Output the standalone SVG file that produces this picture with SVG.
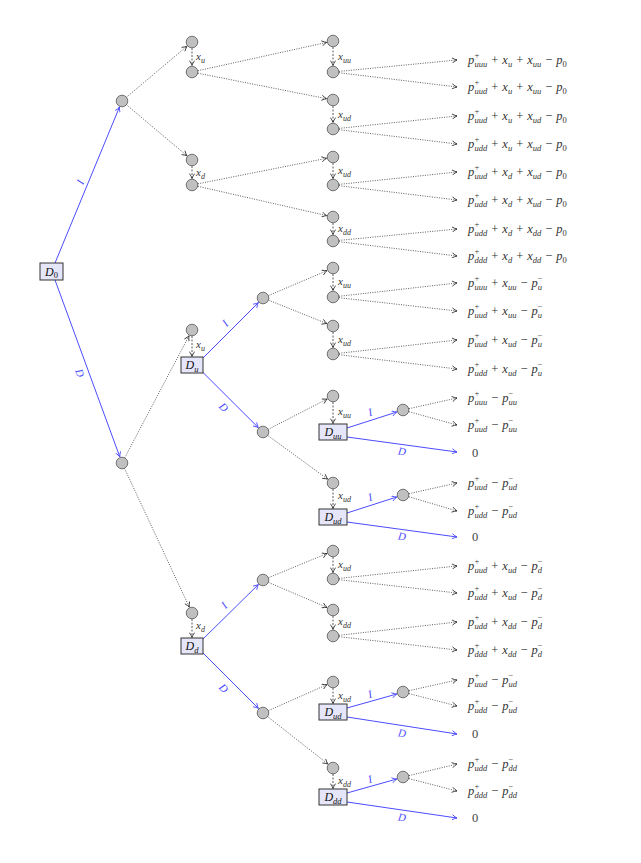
<svg xmlns="http://www.w3.org/2000/svg" width="641" height="863" viewBox="0 0 641 863">
<style>
.dot{fill:none;stroke:#333;stroke-width:0.8;stroke-dasharray:1 1.4;marker-end:url(#ak)}
.dsh{fill:none;stroke:#333;stroke-width:0.8;stroke-dasharray:2 1.5;marker-end:url(#ak)}
.bl{fill:none;stroke:#4c4cff;stroke-width:1;marker-end:url(#ab)}
.c{fill:#c0c0c0;stroke:#555;stroke-width:0.8}
.bx{fill:#e6e6fa;stroke:#333;stroke-width:1}
.m{font-family:"Liberation Serif",serif;font-size:12.5px;fill:#333}
.xl{font-family:"Liberation Serif",serif;font-size:11px;fill:#333}
.nl{font-family:"Liberation Serif",serif;font-size:12px;fill:#111}
.bt{font-family:"Liberation Serif",serif;font-size:11px;font-style:italic;fill:#4c4cff}
.i{font-style:italic}
.s{font-size:8.5px}
.xl .s{font-size:8px}
.z{font-family:"Liberation Serif",serif;font-size:12.5px;fill:#444}
</style>
<defs>
<marker id="ak" viewBox="0 0 6 6" refX="5.5" refY="3" markerWidth="6" markerHeight="6" markerUnits="userSpaceOnUse" orient="auto"><path d="M0.6,0.4 Q3.5,2.4 5.5,3 Q3.5,3.6 0.6,5.6" fill="none" stroke="#222" stroke-width="0.8"/></marker>
<marker id="ab" viewBox="0 0 6 6" refX="5.5" refY="3" markerWidth="6" markerHeight="6" markerUnits="userSpaceOnUse" orient="auto"><path d="M0.6,0.4 Q3.5,2.4 5.5,3 Q3.5,3.6 0.6,5.6" fill="none" stroke="#4c4cff" stroke-width="0.9"/></marker>
</defs>
<rect width="641" height="863" fill="#fff"/>

<g id="connectors">
<line class="bl" x1="55" y1="263" x2="119.5" y2="107"/>
<line class="bl" x1="55" y1="280" x2="119.8" y2="456.9"/>
<text class="bt" x="80" y="182" text-anchor="middle" dominant-baseline="central" transform="rotate(-67.5 80 182)">I</text>
<text class="bt" x="80" y="373" text-anchor="middle" dominant-baseline="central" transform="rotate(70 80 373)">D</text>
<line class="dot" x1="126.6" y1="97.1" x2="187" y2="46.2"/>
<line class="dot" x1="126.6" y1="104.9" x2="187" y2="155.8"/>
<line class="dsh" x1="192" y1="48" x2="192" y2="65.5"/>
<line class="dsh" x1="192" y1="166" x2="192" y2="178.5"/>
<line class="dot" x1="197.9" y1="70.7" x2="326.7" y2="42.4"/>
<line class="dot" x1="197.9" y1="73.2" x2="326.6" y2="98.7"/>
<line class="dot" x1="197.9" y1="183.8" x2="326.6" y2="158.3"/>
<line class="dot" x1="197.9" y1="186.3" x2="326.7" y2="215.6"/>
<line class="dsh" x1="333" y1="47" x2="333" y2="65.5"/>
<line class="dsh" x1="333" y1="106" x2="333" y2="122.5"/>
<line class="dsh" x1="333" y1="163" x2="333" y2="178.5"/>
<line class="dsh" x1="333" y1="223" x2="333" y2="234.5"/>
<line class="dot" x1="339" y1="71.4" x2="457" y2="60"/>
<line class="dot" x1="339" y1="72.7" x2="457" y2="87"/>
<line class="dot" x1="339" y1="128.4" x2="457" y2="116"/>
<line class="dot" x1="339" y1="129.7" x2="457" y2="144"/>
<line class="dot" x1="339" y1="184.4" x2="457" y2="172"/>
<line class="dot" x1="339" y1="185.7" x2="457" y2="200"/>
<line class="dot" x1="339" y1="240.4" x2="457" y2="229"/>
<line class="dot" x1="339" y1="241.7" x2="457" y2="256"/>
<line class="dot" x1="124.8" y1="457.7" x2="189" y2="335.8"/>
<line class="dot" x1="124.5" y1="468.4" x2="189.3" y2="607.1"/>
<line class="dsh" x1="192" y1="336" x2="192" y2="356.5"/>
<line class="dsh" x1="192" y1="619" x2="192" y2="637.5"/>
<line class="bl" x1="203" y1="358" x2="258.4" y2="302.6"/>
<path class="bl" d="M203,372.5 L258.3,427.6"/>
<text class="bt" x="225" y="323" text-anchor="middle" dominant-baseline="central" transform="rotate(-45 225 323)">I</text>
<text class="bt" x="224" y="407" text-anchor="middle" dominant-baseline="central" transform="rotate(45 224 407)">D</text>
<line class="dot" x1="268.5" y1="295.6" x2="327" y2="270.6"/>
<line class="dot" x1="268.6" y1="300.2" x2="327" y2="323.6"/>
<line class="dsh" x1="333" y1="274" x2="333" y2="290.5"/>
<line class="dsh" x1="333" y1="332" x2="333" y2="347.5"/>
<line class="dot" x1="339" y1="296.3" x2="457" y2="283"/>
<line class="dot" x1="339" y1="297.7" x2="457" y2="311"/>
<line class="dot" x1="339" y1="353.3" x2="457" y2="340"/>
<line class="dot" x1="339" y1="354.7" x2="457" y2="369"/>
<line class="dot" x1="268.3" y1="429.3" x2="327.2" y2="399"/>
<line class="dot" x1="267.8" y1="435.5" x2="327.7" y2="479.2"/>
<line class="dsh" x1="333" y1="402" x2="333" y2="423.5"/>
<line class="dsh" x1="333" y1="489" x2="333" y2="508.5"/>
<line class="bl" x1="347" y1="428" x2="396.8" y2="412"/>
<line class="bl" x1="347" y1="437" x2="457" y2="452"/>
<text class="bt" x="370" y="412" text-anchor="middle" dominant-baseline="central" transform="rotate(-17 370 412)">I</text>
<text class="bt" x="402" y="451" text-anchor="middle" dominant-baseline="central" transform="rotate(8 402 451)">D</text>
<line class="dot" x1="409" y1="408.7" x2="457" y2="398"/>
<line class="dot" x1="409" y1="411.7" x2="457" y2="425"/>
<line class="bl" x1="347" y1="513" x2="396.8" y2="497"/>
<line class="bl" x1="347" y1="522" x2="457" y2="537"/>
<text class="bt" x="370" y="497" text-anchor="middle" dominant-baseline="central" transform="rotate(-17 370 497)">I</text>
<text class="bt" x="402" y="536" text-anchor="middle" dominant-baseline="central" transform="rotate(8 402 536)">D</text>
<line class="dot" x1="409" y1="493.7" x2="457" y2="483"/>
<line class="dot" x1="409" y1="496.8" x2="457" y2="511"/>
<line class="bl" x1="203" y1="639" x2="258.4" y2="584.5"/>
<line class="bl" x1="203" y1="653" x2="258.4" y2="708.4"/>
<text class="bt" x="224" y="605" text-anchor="middle" dominant-baseline="central" transform="rotate(-45 224 605)">I</text>
<text class="bt" x="224" y="688" text-anchor="middle" dominant-baseline="central" transform="rotate(45 224 688)">D</text>
<line class="dot" x1="268.5" y1="577.7" x2="327" y2="553.5"/>
<line class="dot" x1="268.5" y1="582.4" x2="327" y2="607.4"/>
<line class="dsh" x1="333" y1="557" x2="333" y2="572.5"/>
<line class="dsh" x1="333" y1="616" x2="333" y2="629.5"/>
<line class="dot" x1="339" y1="578.4" x2="457" y2="566"/>
<line class="dot" x1="339" y1="579.7" x2="457" y2="593"/>
<line class="dot" x1="339" y1="635.3" x2="457" y2="622"/>
<line class="dot" x1="339" y1="636.7" x2="457" y2="650"/>
<line class="dot" x1="268.5" y1="710.6" x2="327.1" y2="684.6"/>
<line class="dot" x1="267.7" y1="716.7" x2="327.9" y2="764"/>
<line class="dsh" x1="333" y1="688" x2="333" y2="703.5"/>
<line class="dsh" x1="333" y1="774" x2="333" y2="788.5"/>
<line class="bl" x1="347" y1="708" x2="396.8" y2="694"/>
<line class="bl" x1="347" y1="717" x2="457" y2="734"/>
<text class="bt" x="370" y="694" text-anchor="middle" dominant-baseline="central" transform="rotate(-16 370 694)">I</text>
<text class="bt" x="402" y="733" text-anchor="middle" dominant-baseline="central" transform="rotate(9 402 733)">D</text>
<line class="dot" x1="409" y1="690.7" x2="457" y2="680"/>
<line class="dot" x1="409" y1="693.6" x2="457" y2="706"/>
<line class="bl" x1="347" y1="793" x2="396.8" y2="779"/>
<line class="bl" x1="347" y1="802" x2="457" y2="818"/>
<text class="bt" x="370" y="779" text-anchor="middle" dominant-baseline="central" transform="rotate(-16 370 779)">I</text>
<text class="bt" x="402" y="817" text-anchor="middle" dominant-baseline="central" transform="rotate(8 402 817)">D</text>
<line class="dot" x1="409" y1="775.6" x2="457" y2="764"/>
<line class="dot" x1="409" y1="778.6" x2="457" y2="791"/>
</g>

<g id="x-labels">
<text class="xl" x="196" y="60"><tspan class="i">x</tspan><tspan class="s i" dy="2.5">u</tspan></text>
<text class="xl" x="196" y="176"><tspan class="i">x</tspan><tspan class="s i" dy="2.5">d</tspan></text>
<text class="xl" x="338" y="60"><tspan class="i">x</tspan><tspan class="s i" dy="2.5">uu</tspan></text>
<text class="xl" x="338" y="118"><tspan class="i">x</tspan><tspan class="s i" dy="2.5">ud</tspan></text>
<text class="xl" x="338" y="174"><tspan class="i">x</tspan><tspan class="s i" dy="2.5">ud</tspan></text>
<text class="xl" x="338" y="232"><tspan class="i">x</tspan><tspan class="s i" dy="2.5">dd</tspan></text>
<text class="xl" x="196" y="348"><tspan class="i">x</tspan><tspan class="s i" dy="2.5">u</tspan></text>
<text class="xl" x="338" y="285"><tspan class="i">x</tspan><tspan class="s i" dy="2.5">uu</tspan></text>
<text class="xl" x="338" y="343"><tspan class="i">x</tspan><tspan class="s i" dy="2.5">ud</tspan></text>
<text class="xl" x="338" y="415"><tspan class="i">x</tspan><tspan class="s i" dy="2.5">uu</tspan></text>
<text class="xl" x="338" y="499"><tspan class="i">x</tspan><tspan class="s i" dy="2.5">ud</tspan></text>
<text class="xl" x="196" y="629"><tspan class="i">x</tspan><tspan class="s i" dy="2.5">d</tspan></text>
<text class="xl" x="338" y="568"><tspan class="i">x</tspan><tspan class="s i" dy="2.5">ud</tspan></text>
<text class="xl" x="338" y="625"><tspan class="i">x</tspan><tspan class="s i" dy="2.5">dd</tspan></text>
<text class="xl" x="338" y="699"><tspan class="i">x</tspan><tspan class="s i" dy="2.5">ud</tspan></text>
<text class="xl" x="338" y="784"><tspan class="i">x</tspan><tspan class="s i" dy="2.5">dd</tspan></text>
</g>

<g id="D0"><rect class="bx" x="40" y="263" width="23" height="17"/><text class="nl" x="51.5" y="275.5" text-anchor="middle"><tspan class="i">D</tspan><tspan class="s" dy="2.5">0</tspan></text></g>
<g id="n-u"><circle class="c" cx="122" cy="101" r="5.8"/></g>
<g id="n-d"><circle class="c" cx="122" cy="463" r="5.8"/></g>
<g id="n-u-a"><circle class="c" cx="192" cy="42" r="5.8"/></g>
<g id="n-u-b"><circle class="c" cx="192" cy="72" r="5.8"/></g>
<g id="n-d-a"><circle class="c" cx="192" cy="160" r="5.8"/></g>
<g id="n-d-b"><circle class="c" cx="192" cy="185" r="5.8"/></g>
<g id="n-uu-a"><circle class="c" cx="333" cy="41" r="5.8"/></g>
<g id="n-uu-b"><circle class="c" cx="333" cy="72" r="5.8"/></g>
<g id="n-ud-a"><circle class="c" cx="333" cy="100" r="5.8"/></g>
<g id="n-ud-b"><circle class="c" cx="333" cy="129" r="5.8"/></g>
<g id="n-du-a"><circle class="c" cx="333" cy="157" r="5.8"/></g>
<g id="n-du-b"><circle class="c" cx="333" cy="185" r="5.8"/></g>
<g id="n-dd-a"><circle class="c" cx="333" cy="217" r="5.8"/></g>
<g id="n-dd-b"><circle class="c" cx="333" cy="241" r="5.8"/></g>

<g id="n-Du-a"><circle class="c" cx="192" cy="330" r="5.8"/></g>
<g id="Du"><rect class="bx" x="181" y="357" width="22" height="16"/><text class="nl" x="192" y="369" text-anchor="middle"><tspan class="i">D</tspan><tspan class="s i" dy="2.5">u</tspan></text></g>
<g id="n-DuI"><circle class="c" cx="263" cy="298" r="5.8"/></g>
<g id="n-DuD"><circle class="c" cx="263" cy="432" r="5.8"/></g>
<g id="n-DuI-uu-a"><circle class="c" cx="333" cy="268" r="5.8"/></g>
<g id="n-DuI-uu-b"><circle class="c" cx="333" cy="297" r="5.8"/></g>
<g id="n-DuI-ud-a"><circle class="c" cx="333" cy="326" r="5.8"/></g>
<g id="n-DuI-ud-b"><circle class="c" cx="333" cy="354" r="5.8"/></g>
<g id="n-DuD-uu-a"><circle class="c" cx="333" cy="396" r="5.8"/></g>
<g id="Duu"><rect class="bx" x="319" y="424" width="28" height="16"/><text class="nl" x="333" y="436" text-anchor="middle"><tspan class="i">D</tspan><tspan class="s i" dy="2.5">uu</tspan></text></g>
<g id="n-Duu-I"><circle class="c" cx="403" cy="410" r="5.8"/></g>
<g id="n-DuD-ud-a"><circle class="c" cx="333" cy="483" r="5.8"/></g>
<g id="Dud-1"><rect class="bx" x="319" y="509" width="28" height="16"/><text class="nl" x="333" y="521" text-anchor="middle"><tspan class="i">D</tspan><tspan class="s i" dy="2.5">ud</tspan></text></g>
<g id="n-Dud1-I"><circle class="c" cx="403" cy="495" r="5.8"/></g>

<g id="n-Dd-a"><circle class="c" cx="192" cy="613" r="5.8"/></g>
<g id="Dd"><rect class="bx" x="181" y="638" width="22" height="16"/><text class="nl" x="192" y="650" text-anchor="middle"><tspan class="i">D</tspan><tspan class="s i" dy="2.5">d</tspan></text></g>
<g id="n-DdI"><circle class="c" cx="263" cy="580" r="5.8"/></g>
<g id="n-DdD"><circle class="c" cx="263" cy="713" r="5.8"/></g>
<g id="n-DdI-ud-a"><circle class="c" cx="333" cy="551" r="5.8"/></g>
<g id="n-DdI-ud-b"><circle class="c" cx="333" cy="579" r="5.8"/></g>
<g id="n-DdI-dd-a"><circle class="c" cx="333" cy="610" r="5.8"/></g>
<g id="n-DdI-dd-b"><circle class="c" cx="333" cy="636" r="5.8"/></g>
<g id="n-DdD-ud-a"><circle class="c" cx="333" cy="682" r="5.8"/></g>
<g id="Dud-2"><rect class="bx" x="319" y="704" width="28" height="16"/><text class="nl" x="333" y="716" text-anchor="middle"><tspan class="i">D</tspan><tspan class="s i" dy="2.5">ud</tspan></text></g>
<g id="n-Dud2-I"><circle class="c" cx="403" cy="692" r="5.8"/></g>
<g id="n-DdD-dd-a"><circle class="c" cx="333" cy="768" r="5.8"/></g>
<g id="Ddd"><rect class="bx" x="319" y="789" width="28" height="16"/><text class="nl" x="333" y="801" text-anchor="middle"><tspan class="i">D</tspan><tspan class="s i" dy="2.5">dd</tspan></text></g>
<g id="n-Ddd-I"><circle class="c" cx="403" cy="777" r="5.8"/></g>

<g id="payoffs">
<text class="m" x="468" y="64"><tspan class="i">p</tspan><tspan class="s" x="474.5" dy="-6">+</tspan><tspan class="s i" x="474.5" dy="9">uuu</tspan><tspan dx="4" dy="-3">+</tspan><tspan class="i" dx="4">x</tspan><tspan class="s i" dy="3">u</tspan><tspan dx="4" dy="-3">+</tspan><tspan class="i" dx="4">x</tspan><tspan class="s i" dy="3">uu</tspan><tspan dx="4" dy="-3">−</tspan><tspan class="i" dx="4">p</tspan><tspan class="s" dy="3">0</tspan></text>
<text class="m" x="468" y="91"><tspan class="i">p</tspan><tspan class="s" x="474.5" dy="-6">+</tspan><tspan class="s i" x="474.5" dy="9">uud</tspan><tspan dx="4" dy="-3">+</tspan><tspan class="i" dx="4">x</tspan><tspan class="s i" dy="3">u</tspan><tspan dx="4" dy="-3">+</tspan><tspan class="i" dx="4">x</tspan><tspan class="s i" dy="3">uu</tspan><tspan dx="4" dy="-3">−</tspan><tspan class="i" dx="4">p</tspan><tspan class="s" dy="3">0</tspan></text>
<text class="m" x="468" y="120"><tspan class="i">p</tspan><tspan class="s" x="474.5" dy="-6">+</tspan><tspan class="s i" x="474.5" dy="9">uud</tspan><tspan dx="4" dy="-3">+</tspan><tspan class="i" dx="4">x</tspan><tspan class="s i" dy="3">u</tspan><tspan dx="4" dy="-3">+</tspan><tspan class="i" dx="4">x</tspan><tspan class="s i" dy="3">ud</tspan><tspan dx="4" dy="-3">−</tspan><tspan class="i" dx="4">p</tspan><tspan class="s" dy="3">0</tspan></text>
<text class="m" x="468" y="148"><tspan class="i">p</tspan><tspan class="s" x="474.5" dy="-6">+</tspan><tspan class="s i" x="474.5" dy="9">udd</tspan><tspan dx="4" dy="-3">+</tspan><tspan class="i" dx="4">x</tspan><tspan class="s i" dy="3">u</tspan><tspan dx="4" dy="-3">+</tspan><tspan class="i" dx="4">x</tspan><tspan class="s i" dy="3">ud</tspan><tspan dx="4" dy="-3">−</tspan><tspan class="i" dx="4">p</tspan><tspan class="s" dy="3">0</tspan></text>
<text class="m" x="468" y="176"><tspan class="i">p</tspan><tspan class="s" x="474.5" dy="-6">+</tspan><tspan class="s i" x="474.5" dy="9">uud</tspan><tspan dx="4" dy="-3">+</tspan><tspan class="i" dx="4">x</tspan><tspan class="s i" dy="3">d</tspan><tspan dx="4" dy="-3">+</tspan><tspan class="i" dx="4">x</tspan><tspan class="s i" dy="3">ud</tspan><tspan dx="4" dy="-3">−</tspan><tspan class="i" dx="4">p</tspan><tspan class="s" dy="3">0</tspan></text>
<text class="m" x="468" y="204"><tspan class="i">p</tspan><tspan class="s" x="474.5" dy="-6">+</tspan><tspan class="s i" x="474.5" dy="9">udd</tspan><tspan dx="4" dy="-3">+</tspan><tspan class="i" dx="4">x</tspan><tspan class="s i" dy="3">d</tspan><tspan dx="4" dy="-3">+</tspan><tspan class="i" dx="4">x</tspan><tspan class="s i" dy="3">ud</tspan><tspan dx="4" dy="-3">−</tspan><tspan class="i" dx="4">p</tspan><tspan class="s" dy="3">0</tspan></text>
<text class="m" x="468" y="233"><tspan class="i">p</tspan><tspan class="s" x="474.5" dy="-6">+</tspan><tspan class="s i" x="474.5" dy="9">udd</tspan><tspan dx="4" dy="-3">+</tspan><tspan class="i" dx="4">x</tspan><tspan class="s i" dy="3">d</tspan><tspan dx="4" dy="-3">+</tspan><tspan class="i" dx="4">x</tspan><tspan class="s i" dy="3">dd</tspan><tspan dx="4" dy="-3">−</tspan><tspan class="i" dx="4">p</tspan><tspan class="s" dy="3">0</tspan></text>
<text class="m" x="468" y="260"><tspan class="i">p</tspan><tspan class="s" x="474.5" dy="-6">+</tspan><tspan class="s i" x="474.5" dy="9">ddd</tspan><tspan dx="4" dy="-3">+</tspan><tspan class="i" dx="4">x</tspan><tspan class="s i" dy="3">d</tspan><tspan dx="4" dy="-3">+</tspan><tspan class="i" dx="4">x</tspan><tspan class="s i" dy="3">dd</tspan><tspan dx="4" dy="-3">−</tspan><tspan class="i" dx="4">p</tspan><tspan class="s" dy="3">0</tspan></text>

<text class="m" x="468" y="287"><tspan class="i">p</tspan><tspan class="s" x="474.5" dy="-6">+</tspan><tspan class="s i" x="474.5" dy="9">uuu</tspan><tspan dx="4" dy="-3">+</tspan><tspan class="i" dx="4">x</tspan><tspan class="s i" dy="3">uu</tspan><tspan dx="4" dy="-3">−</tspan><tspan class="i" dx="4">p</tspan><tspan class="s i" dy="3">u</tspan><tspan class="s" dx="-4.25" dy="-9">−</tspan></text>
<text class="m" x="468" y="315"><tspan class="i">p</tspan><tspan class="s" x="474.5" dy="-6">+</tspan><tspan class="s i" x="474.5" dy="9">uud</tspan><tspan dx="4" dy="-3">+</tspan><tspan class="i" dx="4">x</tspan><tspan class="s i" dy="3">uu</tspan><tspan dx="4" dy="-3">−</tspan><tspan class="i" dx="4">p</tspan><tspan class="s i" dy="3">u</tspan><tspan class="s" dx="-4.25" dy="-9">−</tspan></text>
<text class="m" x="468" y="344"><tspan class="i">p</tspan><tspan class="s" x="474.5" dy="-6">+</tspan><tspan class="s i" x="474.5" dy="9">uud</tspan><tspan dx="4" dy="-3">+</tspan><tspan class="i" dx="4">x</tspan><tspan class="s i" dy="3">ud</tspan><tspan dx="4" dy="-3">−</tspan><tspan class="i" dx="4">p</tspan><tspan class="s i" dy="3">u</tspan><tspan class="s" dx="-4.25" dy="-9">−</tspan></text>
<text class="m" x="468" y="373"><tspan class="i">p</tspan><tspan class="s" x="474.5" dy="-6">+</tspan><tspan class="s i" x="474.5" dy="9">udd</tspan><tspan dx="4" dy="-3">+</tspan><tspan class="i" dx="4">x</tspan><tspan class="s i" dy="3">ud</tspan><tspan dx="4" dy="-3">−</tspan><tspan class="i" dx="4">p</tspan><tspan class="s i" dy="3">u</tspan><tspan class="s" dx="-4.25" dy="-9">−</tspan></text>

<text class="m" x="468" y="402"><tspan class="i">p</tspan><tspan class="s" x="474.5" dy="-6">+</tspan><tspan class="s i" x="474.5" dy="9">uuu</tspan><tspan dx="4" dy="-3">−</tspan><tspan class="i" dx="4">p</tspan><tspan class="s i" dy="3">uu</tspan><tspan class="s" dx="-8.5" dy="-9">−</tspan></text>
<text class="m" x="468" y="429"><tspan class="i">p</tspan><tspan class="s" x="474.5" dy="-6">+</tspan><tspan class="s i" x="474.5" dy="9">uud</tspan><tspan dx="4" dy="-3">−</tspan><tspan class="i" dx="4">p</tspan><tspan class="s i" dy="3">uu</tspan><tspan class="s" dx="-8.5" dy="-9">−</tspan></text>
<text class="z" x="472" y="457">0</text>
<text class="m" x="468" y="487"><tspan class="i">p</tspan><tspan class="s" x="474.5" dy="-6">+</tspan><tspan class="s i" x="474.5" dy="9">uud</tspan><tspan dx="4" dy="-3">−</tspan><tspan class="i" dx="4">p</tspan><tspan class="s i" dy="3">ud</tspan><tspan class="s" dx="-8.5" dy="-9">−</tspan></text>
<text class="m" x="468" y="515"><tspan class="i">p</tspan><tspan class="s" x="474.5" dy="-6">+</tspan><tspan class="s i" x="474.5" dy="9">udd</tspan><tspan dx="4" dy="-3">−</tspan><tspan class="i" dx="4">p</tspan><tspan class="s i" dy="3">ud</tspan><tspan class="s" dx="-8.5" dy="-9">−</tspan></text>
<text class="z" x="472" y="541">0</text>

<text class="m" x="468" y="570"><tspan class="i">p</tspan><tspan class="s" x="474.5" dy="-6">+</tspan><tspan class="s i" x="474.5" dy="9">uud</tspan><tspan dx="4" dy="-3">+</tspan><tspan class="i" dx="4">x</tspan><tspan class="s i" dy="3">ud</tspan><tspan dx="4" dy="-3">−</tspan><tspan class="i" dx="4">p</tspan><tspan class="s i" dy="3">d</tspan><tspan class="s" dx="-4.25" dy="-9">−</tspan></text>
<text class="m" x="468" y="597"><tspan class="i">p</tspan><tspan class="s" x="474.5" dy="-6">+</tspan><tspan class="s i" x="474.5" dy="9">udd</tspan><tspan dx="4" dy="-3">+</tspan><tspan class="i" dx="4">x</tspan><tspan class="s i" dy="3">ud</tspan><tspan dx="4" dy="-3">−</tspan><tspan class="i" dx="4">p</tspan><tspan class="s i" dy="3">d</tspan><tspan class="s" dx="-4.25" dy="-9">−</tspan></text>
<text class="m" x="468" y="626"><tspan class="i">p</tspan><tspan class="s" x="474.5" dy="-6">+</tspan><tspan class="s i" x="474.5" dy="9">udd</tspan><tspan dx="4" dy="-3">+</tspan><tspan class="i" dx="4">x</tspan><tspan class="s i" dy="3">dd</tspan><tspan dx="4" dy="-3">−</tspan><tspan class="i" dx="4">p</tspan><tspan class="s i" dy="3">d</tspan><tspan class="s" dx="-4.25" dy="-9">−</tspan></text>
<text class="m" x="468" y="654"><tspan class="i">p</tspan><tspan class="s" x="474.5" dy="-6">+</tspan><tspan class="s i" x="474.5" dy="9">ddd</tspan><tspan dx="4" dy="-3">+</tspan><tspan class="i" dx="4">x</tspan><tspan class="s i" dy="3">dd</tspan><tspan dx="4" dy="-3">−</tspan><tspan class="i" dx="4">p</tspan><tspan class="s i" dy="3">d</tspan><tspan class="s" dx="-4.25" dy="-9">−</tspan></text>

<text class="m" x="468" y="684"><tspan class="i">p</tspan><tspan class="s" x="474.5" dy="-6">+</tspan><tspan class="s i" x="474.5" dy="9">uud</tspan><tspan dx="4" dy="-3">−</tspan><tspan class="i" dx="4">p</tspan><tspan class="s i" dy="3">ud</tspan><tspan class="s" dx="-8.5" dy="-9">−</tspan></text>
<text class="m" x="468" y="710"><tspan class="i">p</tspan><tspan class="s" x="474.5" dy="-6">+</tspan><tspan class="s i" x="474.5" dy="9">udd</tspan><tspan dx="4" dy="-3">−</tspan><tspan class="i" dx="4">p</tspan><tspan class="s i" dy="3">ud</tspan><tspan class="s" dx="-8.5" dy="-9">−</tspan></text>
<text class="z" x="472" y="738">0</text>
<text class="m" x="468" y="768"><tspan class="i">p</tspan><tspan class="s" x="474.5" dy="-6">+</tspan><tspan class="s i" x="474.5" dy="9">udd</tspan><tspan dx="4" dy="-3">−</tspan><tspan class="i" dx="4">p</tspan><tspan class="s i" dy="3">dd</tspan><tspan class="s" dx="-8.5" dy="-9">−</tspan></text>
<text class="m" x="468" y="795"><tspan class="i">p</tspan><tspan class="s" x="474.5" dy="-6">+</tspan><tspan class="s i" x="474.5" dy="9">ddd</tspan><tspan dx="4" dy="-3">−</tspan><tspan class="i" dx="4">p</tspan><tspan class="s i" dy="3">dd</tspan><tspan class="s" dx="-8.5" dy="-9">−</tspan></text>
<text class="z" x="472" y="822">0</text>
</g>
</svg>
